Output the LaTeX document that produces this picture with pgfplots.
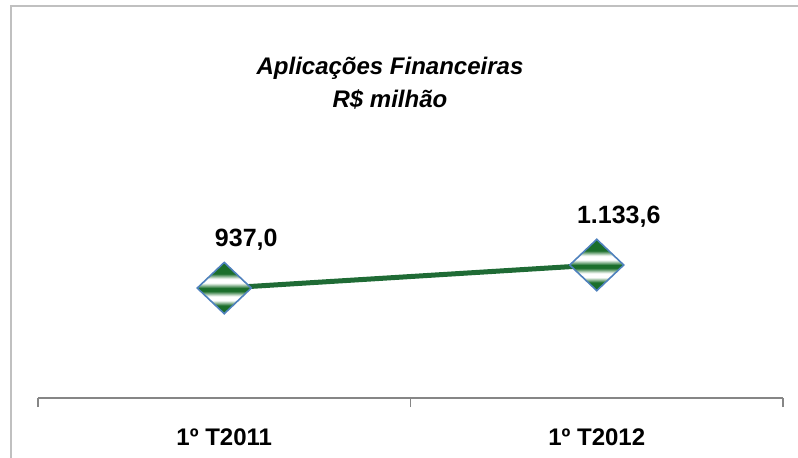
\documentclass[border=0pt]{standalone}
\usepackage{pgfplots}
\pgfplotsset{compat=1.18}
\usepackage{fontspec}
\setmainfont{Liberation Sans}

\definecolor{linegreen}{HTML}{1F6B35}
\definecolor{mkgreen}{HTML}{1B6E2B}
\definecolor{mkblue}{HTML}{4F81BD}
\definecolor{framegray}{HTML}{C0C0C0}
\definecolor{axgray}{HTML}{868686}

% striped fill for the diamonds
\pgfdeclareverticalshading{stripes}{100bp}{color(0bp)=(mkgreen); color(33bp)=(mkgreen);
  color(38bp)=(white); color(42bp)=(white); color(47bp)=(mkgreen); color(50bp)=(mkgreen);
  color(55bp)=(white); color(59bp)=(white); color(64bp)=(mkgreen); color(100bp)=(mkgreen)}
\pgfdeclareplotmark{stripediamond}{%
  \pgfpathmoveto{\pgfqpoint{0pt}{0.95\pgfplotmarksize}}%
  \pgfpathlineto{\pgfqpoint{\pgfplotmarksize}{0pt}}%
  \pgfpathlineto{\pgfqpoint{0pt}{-0.95\pgfplotmarksize}}%
  \pgfpathlineto{\pgfqpoint{-\pgfplotmarksize}{0pt}}%
  \pgfpathclose
  \pgfshadepath{stripes}{0}%
  \pgfusepath{stroke}}

\begin{document}
\begin{tikzpicture}
\useasboundingbox (0,0) rectangle (399pt,228.5pt);
\draw[framegray, line width=1pt] (5.5pt,-1pt) -- (5.5pt,225.5pt) -- (400pt,225.5pt);
\node[font=\bfseries\itshape\fontsize{12}{16.5}\selectfont, align=center] at (195pt,187pt)
  {Aplicações Financeiras\\R\$ milhão};
\begin{axis}[
  at={(19pt,29.5pt)}, anchor=south west,
  scale only axis, width=372.5pt, height=176pt,
  xmin=-0.5, xmax=1.5, ymin=0, ymax=3000,
  axis x line*=bottom, axis y line=none,
  x axis line style={axgray, line width=0.8pt},
  xtick={0,1}, xticklabels={1º T2011,1º T2012},
  major tick length=0pt,
  xticklabel style={font=\bfseries\fontsize{12}{14}\selectfont, yshift=-12pt},
  extra x ticks={-0.5,0.5,1.5}, extra x tick labels={},
  extra x tick style={major tick length=4.5pt, tick align=outside,
    tick style={axgray, line width=0.8pt}},
  ytick=\empty,
  clip=false,
  point meta=y,
  nodes near coords={\pgfmathprintnumber{\pgfplotspointmeta}},
  nodes near coords style={black, font=\bfseries\fontsize{12.5}{14}\selectfont, anchor=center,
    xshift=11pt, yshift=24pt,
    /pgf/number format/.cd, use comma, 1000 sep={.}, fixed, fixed zerofill,
    precision=1, assume math mode=true},
]
\addplot[color=linegreen, line width=2.5pt, mark=stripediamond, mark size=13.5pt,
  mark options={draw=mkblue, line width=0.8pt, solid}]
  coordinates {(0,937.0)(1,1133.6)};
\end{axis}
\end{tikzpicture}
\end{document}
